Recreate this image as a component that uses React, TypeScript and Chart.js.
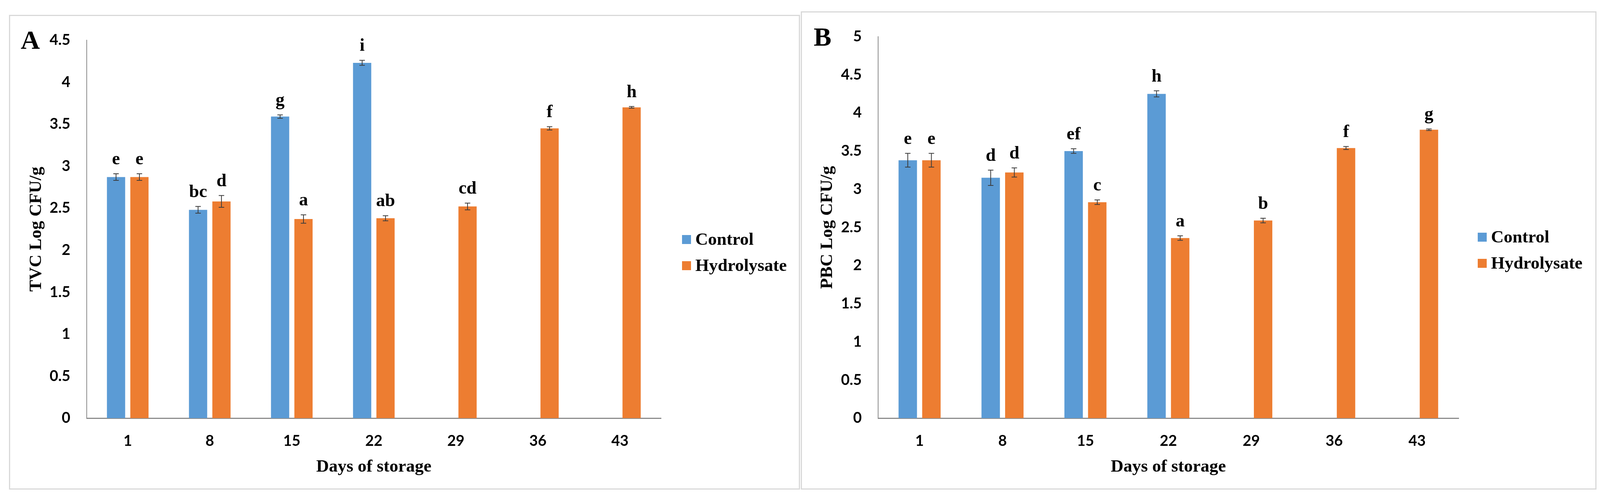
import React, { useEffect, useRef } from 'react';
import { Chart, registerables } from 'chart.js';

Chart.register(...registerables);

// days of storage on the x axis
const days = ['1', '8', '15', '22', '29', '36', '43'];
const seriesNames = ['Control', 'Hydrolysate'];

// panel A: TVC
const tvcControl = [2.87, 2.48, 3.59, 4.23, null, null, null];
const tvcHydrolysate = [2.87, 2.58, 2.37, 2.38, 2.52, 3.45, 3.7];
const tvcControlErr = [0.04, 0.04, 0.02, 0.03, 0, 0, 0];
const tvcHydrolysateErr = [0.04, 0.07, 0.05, 0.03, 0.04, 0.02, 0.01];
const tvcControlLetters = ['e', 'bc', 'g', 'i', '', '', ''];
const tvcHydrolysateLetters = ['e', 'd', 'a', 'ab', 'cd', 'f', 'h'];

// panel B: PBC
const pbcControl = [3.38, 3.15, 3.5, 4.25, null, null, null];
const pbcHydrolysate = [3.38, 3.22, 2.83, 2.36, 2.59, 3.54, 3.78];
const pbcControlErr = [0.09, 0.1, 0.03, 0.04, 0, 0, 0];
const pbcHydrolysateErr = [0.09, 0.06, 0.03, 0.03, 0.03, 0.02, 0.01];
const pbcControlLetters = ['e', 'd', 'ef', 'h', '', '', ''];
const pbcHydrolysateLetters = ['e', 'd', 'c', 'a', 'b', 'f', 'g'];

const BLUE = '#5B9BD5';
const ORANGE = '#ED7D31';
const SERIF = '"Liberation Serif", "Times New Roman", serif';
const TICK_FONT = 'Lato, "Noto Sans", sans-serif';

interface PanelProps {
    tag: string;
    yTitle: string;
    yMax: number;
    control: (number | null)[];
    hydrolysate: (number | null)[];
    controlErr: number[];
    hydrolysateErr: number[];
    controlLetters: string[];
    hydrolysateLetters: string[];
    left: number;
    top: number;
    width: number;
    height: number;
    areaLeft: number;
    areaTop: number;
    areaRight: number;
    areaBottom: number;
    yTitlePad: number;
    legendX: number;
    legendY: number;
    tagX: number;
    tagY: number;
}

const Panel: React.FC<PanelProps> = (p) => {
    const chartRef = useRef<HTMLCanvasElement>(null);
    const chartInstance = useRef<Chart | null>(null);

    useEffect(() => {
        if (!chartRef.current) return;
        if (chartInstance.current) chartInstance.current.destroy();

        const errorBars = {
            id: 'errorBars',
            afterDatasetsDraw(chart: any) {
                const { ctx } = chart;
                const y = chart.scales.y;
                chart.data.datasets.forEach((ds: any, i: number) => {
                    const meta = chart.getDatasetMeta(i);
                    meta.data.forEach((bar: any, j: number) => {
                        const v = ds.data[j];
                        if (v == null) return;
                        const err = ds.errors[j];
                        const top = y.getPixelForValue(v + err);
                        const bot = y.getPixelForValue(v - err);
                        const x = bar.x;
                        ctx.save();
                        ctx.strokeStyle = '#3c3c3c';
                        ctx.lineWidth = 2;
                        ctx.beginPath();
                        ctx.moveTo(x, top);
                        ctx.lineTo(x, bot);
                        ctx.moveTo(x - 7, top);
                        ctx.lineTo(x + 7, top);
                        ctx.moveTo(x - 7, bot);
                        ctx.lineTo(x + 7, bot);
                        ctx.stroke();
                        ctx.fillStyle = '#000';
                        ctx.font = `bold 46px ${SERIF}`;
                        ctx.textAlign = 'center';
                        ctx.textBaseline = 'alphabetic';
                        ctx.fillText(ds.letters[j], x, top - 24);
                        ctx.restore();
                    });
                });
            },
        };

        const sideLegend = {
            id: 'sideLegend',
            afterDraw(chart: any) {
                const { ctx } = chart;
                ctx.save();
                chart.data.datasets.forEach((ds: any, i: number) => {
                    const cy = p.legendY + i * 67;
                    ctx.fillStyle = ds.backgroundColor;
                    ctx.fillRect(p.legendX, cy - 11, 23, 23);
                    ctx.fillStyle = '#000';
                    ctx.font = `bold 45px ${SERIF}`;
                    ctx.textAlign = 'left';
                    ctx.textBaseline = 'middle';
                    ctx.fillText(ds.label, p.legendX + 34, cy + 2);
                });
                ctx.font = `bold 68px ${SERIF}`;
                ctx.textBaseline = 'alphabetic';
                ctx.fillText(p.tag, p.tagX, p.tagY);
                ctx.restore();
            },
        };

        chartInstance.current = new Chart(chartRef.current, {
            type: 'bar',
            data: {
                labels: days,
                datasets: [
                    {
                        label: seriesNames[0],
                        data: p.control,
                        backgroundColor: BLUE,
                        errors: p.controlErr,
                        letters: p.controlLetters,
                    } as any,
                    {
                        label: seriesNames[1],
                        data: p.hydrolysate,
                        backgroundColor: ORANGE,
                        errors: p.hydrolysateErr,
                        letters: p.hydrolysateLetters,
                    } as any,
                ],
            },
            options: {
                animation: false,
                responsive: false,
                devicePixelRatio: 1,
                categoryPercentage: 0.57,
                barPercentage: 0.78,
                layout: {
                    padding: {
                        left: 0,
                        top: p.areaTop,
                        right: p.width - p.areaRight,
                        bottom: 0,
                    },
                },
                plugins: {
                    legend: { display: false },
                    tooltip: { enabled: false },
                },
                scales: {
                    x: {
                        offset: true,
                        grid: { display: false, drawTicks: false },
                        border: { display: true, color: '#8c8c8c', width: 3 },
                        ticks: {
                            color: '#000',
                            font: { family: TICK_FONT, weight: 'bold', size: 38 },
                            padding: 36,
                        },
                        title: {
                            display: true,
                            text: 'Days of storage',
                            color: '#000',
                            font: { family: SERIF, weight: 'bold', size: 45 },
                            padding: { top: 0, bottom: 31 },
                        },
                        afterFit: (scale: any) => {
                            scale.height = p.height - p.areaBottom;
                        },
                    },
                    y: {
                        min: 0,
                        max: p.yMax,
                        grid: { display: false, drawTicks: false },
                        border: { display: true, color: '#8c8c8c', width: 2 },
                        ticks: {
                            stepSize: 0.5,
                            color: '#000',
                            font: { family: TICK_FONT, weight: 'bold', size: 38 },
                            padding: 42,
                            callback: (value: any) => String(Number(value)),
                        },
                        title: {
                            display: true,
                            text: p.yTitle,
                            color: '#000',
                            font: { family: SERIF, weight: 'bold', size: 45 },
                            padding: { top: p.yTitlePad, bottom: 0 },
                        },
                        afterFit: (scale: any) => {
                            scale.width = p.areaLeft;
                        },
                    },
                },
            } as any,
            plugins: [errorBars, sideLegend],
        });

        return () => {
            if (chartInstance.current) {
                chartInstance.current.destroy();
                chartInstance.current = null;
            }
        };
    }, [p]);

    return (
        <div
            style={{
                position: 'absolute',
                left: p.left,
                top: p.top,
                width: p.width,
                height: p.height,
                boxSizing: 'border-box',
                border: '3px solid #d9d9d9',
                background: '#fff',
            }}
        >
            <canvas
                ref={chartRef}
                width={p.width}
                height={p.height}
                style={{ position: 'absolute', left: -3, top: -3, width: p.width, height: p.height }}
            />
        </div>
    );
};

const panelA: PanelProps = {
    tag: 'A',
    yTitle: 'TVC Log CFU/g',
    yMax: 4.5,
    control: tvcControl,
    hydrolysate: tvcHydrolysate,
    controlErr: tvcControlErr,
    hydrolysateErr: tvcHydrolysateErr,
    controlLetters: tvcControlLetters,
    hydrolysateLetters: tvcHydrolysateLetters,
    left: 15,
    top: 30,
    width: 2025,
    height: 1216,
    areaLeft: 199,
    areaTop: 47,
    areaRight: 1669,
    areaBottom: 1033,
    yTitlePad: 43,
    legendX: 1723,
    legendY: 575,
    tagX: 30,
    tagY: 87,
};

const panelB: PanelProps = {
    tag: 'B',
    yTitle: 'PBC Log CFU/g',
    yMax: 5,
    control: pbcControl,
    hydrolysate: pbcHydrolysate,
    controlErr: pbcControlErr,
    hydrolysateErr: pbcHydrolysateErr,
    controlLetters: pbcControlLetters,
    hydrolysateLetters: pbcHydrolysateLetters,
    left: 2042,
    top: 21,
    width: 2037,
    height: 1225,
    areaLeft: 198,
    areaTop: 44,
    areaRight: 1684,
    areaBottom: 1042,
    yTitlePad: 41,
    legendX: 1733,
    legendY: 578,
    tagX: 33,
    tagY: 88,
};

const App: React.FC = () => {
    return (
        <div style={{ position: 'relative', width: 4101, height: 1273, background: '#fff' }}>
            <Panel {...panelA} />
            <Panel {...panelB} />
        </div>
    );
};

export default App;
